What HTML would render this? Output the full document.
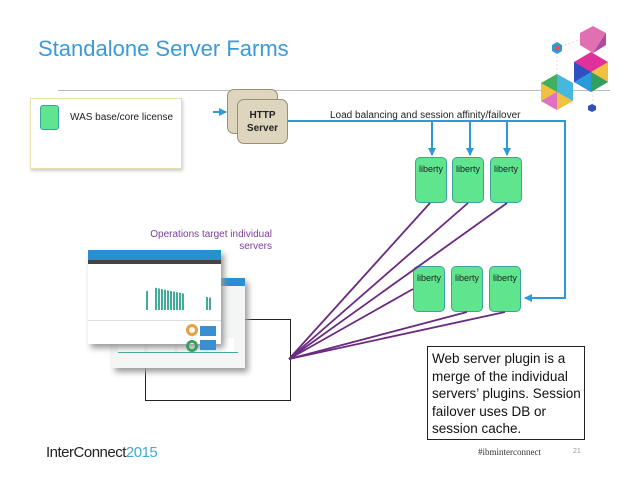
<!DOCTYPE html>
<html><head><style>
body{margin:0;width:638px;height:493px;background:#fff;position:relative;overflow:hidden;font-family:"Liberation Sans",sans-serif}
.a{position:absolute}
.lib{position:absolute;width:32px;height:46px;background:#5ee58e;border:1px solid #3aa3a0;border-radius:5px;font-size:9px;text-align:center;box-sizing:border-box;padding-top:6px;color:#222}
.hs{position:absolute;width:51px;height:45px;background:#ddd5bd;border:1px solid #9b8f70;border-radius:7px;box-sizing:border-box}
</style></head><body>
<div class="a" style="left:38px;top:36px;font-size:22px;color:#3a9ad9">Standalone Server Farms</div>
<div class="a" style="left:58px;top:90px;width:552px;height:1px;background:#bbb"></div>
<svg class="a" style="left:530px;top:20px" width="108" height="95">
<g stroke="#ccc" stroke-width="0.6" stroke-dasharray="2,2" fill="none">
<line x1="27" y1="28" x2="27" y2="72"/><line x1="63" y1="15" x2="63" y2="88"/><line x1="27" y1="28" x2="63" y2="15"/>
</g>
<polygon points="63,6 76,13 76,25 63,33 50,25 50,13" fill="#e070b0"/>
<polygon points="63,33 76,25 76,13" fill="#b04aa0"/>
<polygon points="61,32 78,42 78,62 61,72 44,62 44,42" fill="#e0309a"/>
<polygon points="61,52 78,42 78,62" fill="#f0c040"/>
<polygon points="61,52 78,62 61,72" fill="#30a060"/>
<polygon points="61,52 61,72 44,62" fill="#2a9bd8"/>
<polygon points="61,52 44,62 44,42" fill="#3050c0"/>
<polygon points="27,54 43,63 43,81 27,90 11,81 11,63" fill="#f0c040"/>
<polygon points="27,54 43,63 43,81 27,72" fill="#46b8e0"/>
<polygon points="27,72 11,81 27,90" fill="#e070c0"/>
<polygon points="11,63 27,54 27,72" fill="#40b060"/>
<polygon points="27,22 32,25 32,31 27,34 22,31 22,25" fill="#2a9bd8"/>
<circle cx="27" cy="28" r="2.5" fill="#e05050"/>
<polygon points="62,84 66,86 66,90 62,92 58,90 58,86" fill="#3050c0"/>
</svg>
<div class="a" style="left:30px;top:98px;width:150px;height:69px;border:1px solid #e3e2a8;box-shadow:1px 2px 3px #ccc;background:#fff"></div>
<div class="a" style="left:40px;top:105px;width:17px;height:23px;background:#5ee58e;border:1px solid #3aa3a0;border-radius:3px"></div>
<div class="a" style="left:70px;top:112px;font-size:10px;color:#222">WAS base/core license</div>
<div class="hs" style="left:227px;top:89px"></div>
<div class="hs" style="left:237px;top:99px;font-size:10px;font-weight:bold;text-align:center;padding-top:9px;line-height:13px;color:#222">HTTP<br>Server</div>
<svg class="a" style="left:0;top:0" width="638" height="493">
<defs><marker id="ar" markerWidth="5" markerHeight="5" refX="4" refY="2.5" orient="auto" markerUnits="userSpaceOnUse"><path d="M0,0L5,2.5L0,5z" fill="#2a9bd8"/></marker>
<marker id="ar2" markerWidth="8" markerHeight="8" refX="7" refY="4" orient="auto" markerUnits="userSpaceOnUse"><path d="M0,0L8,4L0,8z" fill="#2a9bd8"/></marker></defs>
<line x1="213" y1="112" x2="226" y2="112" stroke="#2a9bd8" stroke-width="2" marker-end="url(#ar2)"/>
<polyline points="288,121 565,121 565,298 525,298" fill="none" stroke="#2a9bd8" stroke-width="2" marker-end="url(#ar2)"/>
<line x1="432" y1="121" x2="432" y2="155" stroke="#2a9bd8" stroke-width="2" marker-end="url(#ar2)"/>
<line x1="470" y1="121" x2="470" y2="155" stroke="#2a9bd8" stroke-width="2" marker-end="url(#ar2)"/>
<line x1="507" y1="121" x2="507" y2="155" stroke="#2a9bd8" stroke-width="2" marker-end="url(#ar2)"/>
</svg>
<div class="a" style="left:330px;top:110px;font-size:10px;color:#222">Load balancing and session affinity/failover</div>
<div class="lib" style="left:415px;top:157px">liberty</div>
<div class="lib" style="left:452px;top:157px">liberty</div>
<div class="lib" style="left:490px;top:157px">liberty</div>
<div class="lib" style="left:413px;top:266px">liberty</div>
<div class="lib" style="left:451px;top:266px">liberty</div>
<div class="lib" style="left:489px;top:266px">liberty</div>
<div class="a" style="left:145px;top:319px;width:144px;height:80px;border:1px solid #222;background:#fff"></div>
<div class="a" style="left:112px;top:278px;width:133px;height:90px;background:#f4f6f5;box-shadow:3px 4px 6px #999;border-top:8px solid #2a8fd0;box-sizing:border-box">
<div style="position:absolute;left:6px;top:52px;width:120px;height:14px;background:repeating-linear-gradient(90deg,#fff 0 26px,#f4f6f5 26px 30px);border-bottom:1px solid #4a9"></div>
</div>
<div class="a" style="left:88px;top:250px;width:133px;height:94px;background:#fff;box-shadow:3px 4px 6px #999;border-top:10px solid #2a8fd0;box-sizing:border-box">
<div style="height:4px;background:#444"></div>
<div style="position:absolute;left:40px;top:22px;width:90px;height:28px;background:repeating-linear-gradient(90deg,#4a9 0 2px,#fff 2px 3px);-webkit-mask:linear-gradient(90deg,transparent 0 20%,#000 20% 23%,transparent 23% 30%,#000 30% 62%,transparent 62% 86%,#000 86% 92%,transparent 92%);clip-path:polygon(0 60%,30% 20%,60% 40%,100% 60%,100% 100%,0 100%)"></div>
<div style="position:absolute;left:0;top:60px;width:133px;border-top:1px solid #ddd"></div>
<div style="position:absolute;left:98px;top:64px;width:6px;height:6px;border:3px solid #e8a040;border-radius:50%"></div>
<div style="position:absolute;left:98px;top:80px;width:6px;height:6px;border:3px solid #3aa060;border-radius:50%"></div>
<div style="position:absolute;left:112px;top:66px;width:16px;height:10px;background:#3a8fd0"></div>
<div style="position:absolute;left:112px;top:80px;width:16px;height:10px;background:#3a8fd0"></div>
</div>
<svg class="a" style="left:0;top:0" width="638" height="493">
<g stroke="#6a2a80" stroke-width="1.8">
<line x1="289" y1="359" x2="430" y2="203"/>
<line x1="289" y1="359" x2="468" y2="203"/>
<line x1="289" y1="359" x2="507" y2="203"/>
<line x1="289" y1="359" x2="413" y2="289"/>
<line x1="289" y1="359" x2="467" y2="312"/>
<line x1="289" y1="359" x2="505" y2="312"/>
</g></svg>
<div class="a" style="left:130px;top:229px;width:142px;text-align:right;font-size:10px;color:#7a3e9b;line-height:12px">Operations target individual<br>servers</div>
<div class="a" style="left:427px;top:346px;width:158px;height:94px;border:1px solid #222;box-sizing:border-box;padding:3px 0 0 4px;font-size:13.5px;line-height:17.5px;color:#111">Web server plugin is a merge of the individual servers’ plugins. Session failover uses DB or session cache.</div>
<div class="a" style="left:46px;top:444px;font-size:15px;color:#222;letter-spacing:-0.5px">InterConnect<span style="color:#46a8d8">2015</span></div>
<div class="a" style="left:478px;top:447px;font-size:9px;color:#333;font-family:'Liberation Serif',serif">#ibminterconnect</div>
<div class="a" style="left:573px;top:448px;font-size:7px;color:#999">21</div>
</body></html>
